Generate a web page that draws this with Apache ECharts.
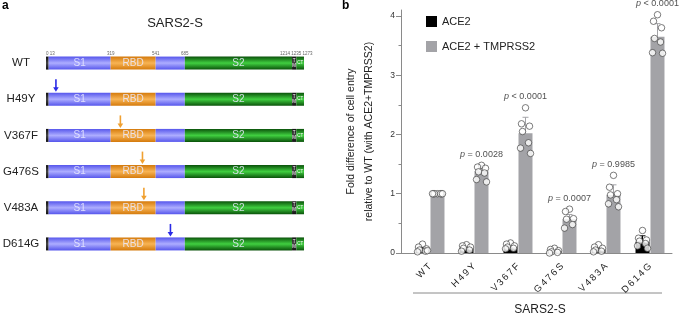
<!DOCTYPE html>
<html>
<head>
<meta charset="utf-8">
<script src="https://cdn.jsdelivr.net/npm/echarts@6/dist/echarts.min.js"></script>
<style>
  html, body { margin: 0; padding: 0; background: #fff; }
  #chart { width: 680px; height: 314px; }
</style>
</head>
<body>
<div id="chart"></div>
<script>
// --- panel a : spike variants / domain map ---
var variants = ['WT', 'H49Y', 'V367F', 'G476S', 'V483A', 'D614G'];
var mutationSite = [null, 49, 367, 476, 483, 614];
var domainStart = [0, 13, 319, 541, 685, 1214, 1235];
var domainEnd = [13, 319, 541, 685, 1214, 1235, 1273];
var domainName = ['', 'S1', 'RBD', '', 'S2', 'T\nM', 'CT'];
var siteLabelPos = [0, 319, 541, 685, 1235];
var siteLabelText = ['0 13', '319', '541', '685', '1214 1235 1273'];

// --- panel b : fold entry ---
var ace2Mean = [0.06, 0.08, 0.10, 0.03, 0.06, 0.19];
var ace2Sd = [0.04, 0.03, 0.03, 0.02, 0.03, 0.10];
var ace2Points = [
  [0.15, 0.10, 0.07, 0.05, 0.03, 0.02, 0.04],
  [0.14, 0.12, 0.10, 0.08, 0.05, 0.03],
  [0.17, 0.15, 0.12, 0.10, 0.08, 0.07],
  [0.08, 0.06, 0.04, 0.02, 0.01, 0.00],
  [0.14, 0.10, 0.08, 0.05, 0.03, 0.02],
  [0.38, 0.25, 0.22, 0.20, 0.16, 0.12, 0.08]
];
var tmprssMean = [1.00, 1.38, 2.02, 0.57, 0.98, 3.65];
var tmprssSd = [0.00, 0.10, 0.27, 0.08, 0.17, 0.22];
var tmprssPoints = [
  [1.00, 1.00, 1.00, 1.00, 1.00, 1.00, 1.00],
  [1.48, 1.45, 1.43, 1.37, 1.35, 1.24, 1.20],
  [2.45, 2.18, 2.14, 2.05, 1.86, 1.77, 1.68],
  [0.74, 0.70, 0.58, 0.57, 0.48, 0.42],
  [1.31, 1.11, 1.00, 0.98, 0.90, 0.83, 0.78],
  [4.02, 3.91, 3.80, 3.62, 3.56, 3.38, 3.37]
];
var pValues = ['', 'p = 0.0028', 'p < 0.0001', 'p = 0.0007', 'p = 0.9985', 'p < 0.0001'];
var yTicks = [0, 1, 2, 3, 4];

var FONT = '"Liberation Sans", Arial, sans-serif';
var jitter = [0, -4, 4, -3, 3, -5, 5];
var SHIFT = 7.5;

function grad(edge, mid) {
  return new echarts.graphic.LinearGradient(0, 0, 0, 1, [
    {offset: 0, color: edge}, {offset: 0.5, color: mid}, {offset: 1, color: edge}
  ]);
}
var blue = grad('#5656ec', '#adadff');
var orange = grad('#d47a0c', '#f8b454');
var green = grad('#0a520a', '#40cf40');
var dark = grad('#111', '#444');
var domainFill = [dark, blue, orange, blue, green, dark, green];

var domainData = [];
variants.forEach(function (v, r) {
  domainStart.forEach(function (s, k) { domainData.push([r, s, domainEnd[k], k]); });
});

function renderDomain(params, api) {
  var row = api.value(0), k = api.value(3);
  var p0 = api.coord([api.value(1), row]);
  var p1 = api.coord([api.value(2), row]);
  var h = 13;
  var kids = [{
    type: 'rect',
    shape: {x: p0[0], y: p0[1] - h / 2, width: p1[0] - p0[0], height: h},
    style: {fill: domainFill[k]}
  }];
  var name = domainName[k];
  if (name) {
    var small = k >= 5;
    kids.push({
      type: 'text',
      style: {
        text: name, x: (p0[0] + p1[0]) / 2, y: p0[1],
        align: 'center', verticalAlign: 'middle',
        fill: small ? '#fff' : 'rgba(235,235,255,0.85)',
        font: (small ? '4.5px ' : '10px ') + FONT,
        lineHeight: small ? 5 : 12
      }
    });
  }
  return {type: 'group', children: kids};
}

var siteData = siteLabelPos.map(function (p, i) { return [0, p, i]; });
function renderSite(params, api) {
  var i = api.value(2);
  var c = api.coord([api.value(1), 0]);
  return {
    type: 'text',
    style: {
      text: siteLabelText[i], x: c[0], y: c[1] - 9.5,
      align: i === 0 ? 'left' : 'center', verticalAlign: 'middle',
      fill: '#666', font: '4.5px ' + FONT
    }
  };
}

var arrowData = [];
mutationSite.forEach(function (m, r) { if (m !== null) arrowData.push([r, m]); });
function renderArrow(params, api) {
  var pos = api.value(1);
  var c = api.coord([pos, api.value(0)]);
  var inRbd = pos >= domainStart[2] && pos <= domainEnd[2];
  var col = inRbd ? '#f0a030' : '#2a2ae6';
  return {
    type: 'group',
    children: [
      {type: 'line', shape: {x1: c[0], y1: c[1] - 20, x2: c[0], y2: c[1] - 11},
        style: {stroke: col, lineWidth: 1.6}},
      {type: 'polygon', shape: {points: [[c[0] - 2.8, c[1] - 12], [c[0] + 2.8, c[1] - 12], [c[0], c[1] - 7.5]]},
        style: {fill: col}}
    ]
  };
}

// panel b helpers
function pointData(groups, shift) {
  var out = [];
  groups.forEach(function (vals, i) {
    vals.forEach(function (v, j) {
      out.push({value: [i, v], symbolOffset: [shift + jitter[j % jitter.length], 0]});
    });
  });
  return out;
}
function errData(mean, sd) {
  return mean.map(function (m, i) { return [i, m, m + sd[i]]; });
}
function errRender(shift, col) {
  return function (params, api) {
    var lo = api.coord([api.value(0), api.value(1)]);
    var hi = api.coord([api.value(0), api.value(2)]);
    var x = lo[0] + shift;
    if (lo[1] - hi[1] < 0.5) return null;
    return {
      type: 'group',
      children: [
        {type: 'line', shape: {x1: x, y1: lo[1], x2: x, y2: hi[1]}, style: {stroke: col, lineWidth: 1}},
        {type: 'line', shape: {x1: x - 3, y1: hi[1], x2: x + 3, y2: hi[1]}, style: {stroke: col, lineWidth: 1}}
      ]
    };
  };
}
var pData = [];
pValues.forEach(function (t, i) {
  if (t) pData.push({value: [i, Math.max.apply(null, tmprssPoints[i])], txt: t});
});

var minorTicks = yTicks.slice(0, -1).map(function (t) { return t + 0.5; });
var axisGray = '#8a8a8a';

var chart = echarts.init(document.getElementById('chart'));
chart.setOption({
  animation: false,
  textStyle: {fontFamily: FONT},
  grid: [
    {left: 46, width: 258, top: 45, height: 217, outerBoundsMode: 'none'},
    {left: 408, right: 8, top: 10, bottom: 61, outerBoundsMode: 'none'},
    {left: 401, right: 8, top: 10, bottom: 61, outerBoundsMode: 'none'}
  ],
  xAxis: [
    {gridIndex: 0, type: 'value', min: 0, max: 1273, show: false},
    {gridIndex: 1, type: 'category', data: variants,
      axisLine: {show: false},
      axisTick: {alignWithLabel: true, length: 4, lineStyle: {color: axisGray}},
      axisLabel: {rotate: 45, fontSize: 9.5, color: '#222', margin: 12,
        formatter: function (v) { return v.split('').join('\u2009'); }},
      name: 'SARS2-S', nameLocation: 'middle', nameGap: 51,
      nameTextStyle: {fontSize: 12, color: '#222'}},
    {gridIndex: 2, type: 'value', min: 0, max: 1,
      axisLine: {show: true, lineStyle: {color: axisGray}},
      axisTick: {show: false}, axisLabel: {show: false}, splitLine: {show: false}}
  ],
  yAxis: [
    {gridIndex: 0, type: 'category', data: variants, inverse: true,
      axisLine: {show: false}, axisTick: {show: false},
      axisLabel: {fontSize: 11.5, color: '#222', align: 'center', margin: 25}},
    {gridIndex: 1, type: 'value', min: 0, max: 4.1, show: false},
    {gridIndex: 2, type: 'value', min: 0, max: 4.1,
      axisLine: {show: true, lineStyle: {color: axisGray}},
      axisTick: {show: true, length: 5, customValues: yTicks, lineStyle: {color: axisGray}},
      axisLabel: {customValues: yTicks, fontSize: 8.5, color: '#333', margin: 6},
      splitLine: {show: false},
      name: 'Fold difference of cell entry\nrelative to WT (with ACE2+TMPRSS2)',
      nameLocation: 'middle', nameGap: 23,
      nameTextStyle: {fontSize: 10.5, color: '#222', lineHeight: 18}},
    {gridIndex: 2, type: 'value', min: 0, max: 4.1, position: 'left',
      axisLine: {show: false}, axisLabel: {show: false}, splitLine: {show: false},
      axisTick: {show: true, length: 2.5, customValues: minorTicks, lineStyle: {color: axisGray}}}
  ],
  legend: {
    left: 426, top: 16, orient: 'vertical', itemGap: 14, padding: 0,
    itemWidth: 11, itemHeight: 11, icon: 'rect',
    data: ['ACE2', 'ACE2 + TMPRSS2'],
    textStyle: {fontSize: 11, color: '#222'}
  },
  graphic: [
    {type: 'text', left: 2, top: 0, style: {text: 'a', font: 'bold 12px ' + FONT, fill: '#000'}},
    {type: 'text', left: 342, top: 0, style: {text: 'b', font: 'bold 12px ' + FONT, fill: '#000'}},
    {type: 'text', x: 175, y: 23, style: {text: 'SARS2-S', font: '13px ' + FONT, fill: '#222', align: 'center', verticalAlign: 'middle'}},
    {type: 'line', shape: {x1: 413, y1: 293, x2: 662, y2: 293}, style: {stroke: axisGray, lineWidth: 1}}
  ],
  series: [
    {type: 'custom', xAxisIndex: 0, yAxisIndex: 0, renderItem: renderDomain,
      encode: {x: [1, 2], y: 0}, data: domainData},
    {type: 'custom', xAxisIndex: 0, yAxisIndex: 0, renderItem: renderSite,
      encode: {x: 1, y: 0}, data: siteData},
    {type: 'custom', xAxisIndex: 0, yAxisIndex: 0, renderItem: renderArrow,
      encode: {x: 1, y: 0}, data: arrowData},

    {name: 'ACE2', type: 'bar', xAxisIndex: 1, yAxisIndex: 1, data: ace2Mean,
      barWidth: 14, barGap: '7%', itemStyle: {color: '#000'}},
    {name: 'ACE2 + TMPRSS2', type: 'bar', xAxisIndex: 1, yAxisIndex: 1, data: tmprssMean,
      barWidth: 14, barGap: '7%', itemStyle: {color: '#a3a3a7'}},
    {type: 'custom', xAxisIndex: 1, yAxisIndex: 1, renderItem: errRender(-SHIFT, '#000'),
      encode: {x: 0, y: [1, 2]}, data: errData(ace2Mean, ace2Sd), z: 3},
    {type: 'custom', xAxisIndex: 1, yAxisIndex: 1, renderItem: errRender(SHIFT, '#a3a3a7'),
      encode: {x: 0, y: [1, 2]}, data: errData(tmprssMean, tmprssSd), z: 3},
    {type: 'scatter', xAxisIndex: 1, yAxisIndex: 1, symbolSize: 6.5, z: 4,
      itemStyle: {color: '#fff', borderColor: '#333', borderWidth: 0.8},
      data: pointData(ace2Points, -SHIFT)},
    {type: 'scatter', xAxisIndex: 1, yAxisIndex: 1, symbolSize: 6.5, z: 4,
      itemStyle: {color: '#fff', borderColor: '#333', borderWidth: 0.8},
      data: pointData(tmprssPoints, SHIFT)},
    {type: 'scatter', xAxisIndex: 1, yAxisIndex: 1, symbolSize: 1, z: 5,
      itemStyle: {color: 'rgba(0,0,0,0)'},
      label: {show: true, position: 'top', distance: 6, offset: [SHIFT, 0],
        fontSize: 9, color: '#222',
        formatter: function (p) { return '{i|p}' + p.data.txt.slice(1); },
        rich: {i: {fontStyle: 'italic', fontSize: 9, color: '#222'}}},
      data: pData}
  ]
});
</script>
</body>
</html>
